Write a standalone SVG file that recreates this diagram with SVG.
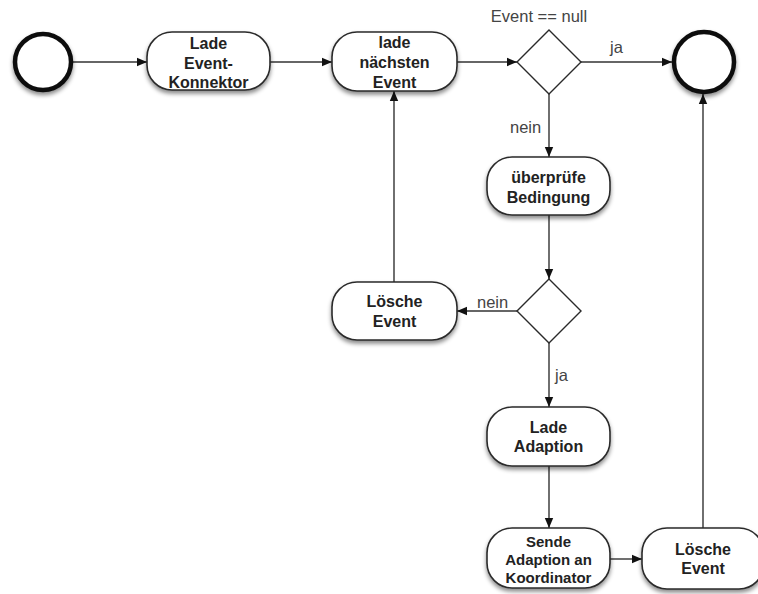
<svg xmlns="http://www.w3.org/2000/svg" width="758" height="594" viewBox="0 0 758 594">
<style>
.node rect{fill:#fff;stroke:#2a2a2a;stroke-width:1.6;filter:url(#sh)}
.circ{fill:#fff;stroke:#111;stroke-width:4.5;filter:url(#sh)}
.dia{fill:#fff;stroke:#2a2a2a;stroke-width:1.4}
.t{font-family:"Liberation Sans",Arial,sans-serif;font-weight:bold;font-size:16px;fill:#222;text-anchor:middle}
.s{font-size:15px}
.lbl{font-family:"Liberation Sans",Arial,sans-serif;font-size:16.5px;fill:#444}
.c line{stroke:#333;stroke-width:1.4;marker-end:url(#ah)}
</style>
<defs>
<filter id="sh" x="-20%" y="-20%" width="140%" height="160%">
<feDropShadow dx="0" dy="3" stdDeviation="2.2" flood-color="#000" flood-opacity="0.45"/>
</filter>
<marker id="ah" viewBox="0 0 10 10" refX="10" refY="5" markerWidth="10" markerHeight="10" markerUnits="userSpaceOnUse" orient="auto">
<path d="M0,0.8 L10,5 L0,9.2 Z" fill="#111"/>
</marker>
</defs>
<rect width="758" height="594" fill="#fff"/>
<g class="c" id="connectors">
<line x1="71" y1="62" x2="147" y2="62"/>
<line x1="270" y1="62" x2="332" y2="62"/>
<line x1="457" y1="62" x2="517" y2="62"/>
<line x1="581" y1="62" x2="672" y2="62"/>
<line x1="549" y1="94" x2="549" y2="157"/>
<line x1="549" y1="215" x2="549" y2="279"/>
<line x1="517" y1="311" x2="457" y2="311"/>
<line x1="394" y1="282" x2="394" y2="91"/>
<line x1="549" y1="343" x2="549" y2="407"/>
<line x1="549" y1="466" x2="549" y2="528"/>
<line x1="610" y1="559" x2="642" y2="559"/>
<line x1="703" y1="528" x2="703" y2="94"/>
</g>
<g id="start"><circle class="circ" cx="43" cy="62" r="28"/></g>
<g id="end"><circle class="circ" cx="704" cy="62" r="30"/></g>
<g id="n1" class="node"><rect x="147" y="32" width="123" height="58" rx="25"/>
<text class="t" x="208.5" y="49">Lade</text><text class="t" x="208.5" y="68.5">Event-</text><text class="t" x="208.5" y="88">Konnektor</text></g>
<g id="n2" class="node"><rect x="332" y="32" width="125" height="59" rx="25"/>
<text class="t" x="394.5" y="48">lade</text><text class="t" x="394.5" y="68">nächsten</text><text class="t" x="394.5" y="88">Event</text></g>
<g id="d1"><polygon class="dia" points="549,30 581,62 549,94 517,62"/></g>
<g id="n3" class="node"><rect x="487" y="157" width="123" height="58" rx="25"/>
<text class="t" x="548.5" y="183">überprüfe</text><text class="t" x="548.5" y="203">Bedingung</text></g>
<g id="d2"><polygon class="dia" points="549,279 581,311 549,343 517,311"/></g>
<g id="n4" class="node"><rect x="332" y="282" width="125" height="58" rx="25"/>
<text class="t" x="394.5" y="307">Lösche</text><text class="t" x="394.5" y="327">Event</text></g>
<g id="n5" class="node"><rect x="487" y="407" width="123" height="59" rx="25"/>
<text class="t" x="548.5" y="433">Lade</text><text class="t" x="548.5" y="452">Adaption</text></g>
<g id="n6" class="node"><rect x="487" y="528" width="123" height="60" rx="25"/>
<text class="t s" x="548.5" y="547">Sende</text><text class="t s" x="548.5" y="565">Adaption an</text><text class="t s" x="548.5" y="583">Koordinator</text></g>
<g id="n7" class="node"><rect x="642" y="528" width="122" height="61" rx="25"/>
<text class="t" x="703" y="555">Lösche</text><text class="t" x="703" y="574">Event</text></g>
<g id="labels">
<text class="lbl" x="539" y="22" text-anchor="middle">Event == null</text>
<text class="lbl" x="610" y="53">ja</text>
<text class="lbl" x="510" y="133">nein</text>
<text class="lbl" x="477" y="308">nein</text>
<text class="lbl" x="555" y="381">ja</text>
</g>
</svg>
